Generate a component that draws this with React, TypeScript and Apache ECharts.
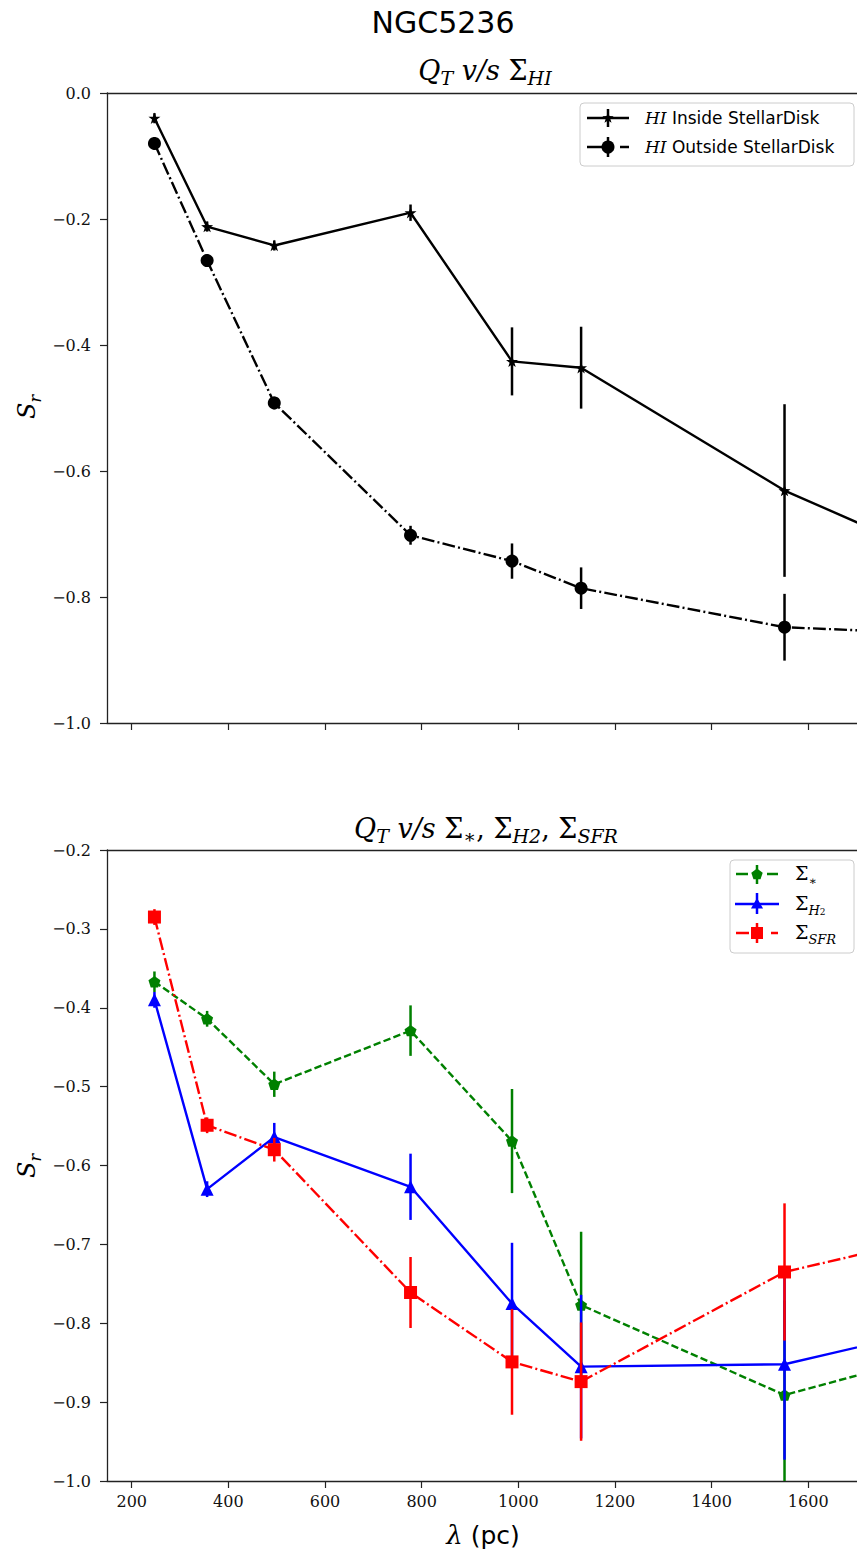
import React, { useEffect, useRef } from "react";
import * as echarts from "echarts";

// Spatial scale λ (pc) of each measurement; the last one lies past the visible axis range
const lambdaPc = [247, 356, 495, 777, 987, 1130, 1551, 2210];

// Upper panel: S_r of Q_T against Σ_HI
const hiInside = [-0.04, -0.212, -0.242, -0.19, -0.426, -0.436, -0.631, -0.853];
const hiInsideErr = [0.008, 0.008, 0.008, 0.013, 0.054, 0.065, 0.137, 0.15];
const hiOutside = [-0.08, -0.266, -0.492, -0.702, -0.743, -0.786, -0.848, -0.869];
const hiOutsideErr = [0.01, 0.01, 0.01, 0.015, 0.028, 0.033, 0.053, 0.06];

// Lower panel: S_r of Q_T against Σ_*, Σ_H2, Σ_SFR
const sigmaStar = [-0.367, -0.414, -0.497, -0.429, -0.569, -0.777, -0.891, -0.782];
const sigmaStarErr = [0.013, 0.01, 0.016, 0.032, 0.066, 0.093, 0.12, 0.12];
const sigmaH2 = [-0.39, -0.63, -0.564, -0.627, -0.775, -0.855, -0.852, -0.758];
const sigmaH2Err = [0.01, 0.01, 0.018, 0.042, 0.077, 0.091, 0.121, 0.12];
const sigmaSFR = [-0.285, -0.549, -0.58, -0.761, -0.849, -0.874, -0.735, -0.641];
const sigmaSFRErr = [0.01, 0.01, 0.015, 0.045, 0.067, 0.075, 0.087, 0.09];

const xTicks = [200, 400, 600, 800, 1000, 1200, 1400, 1600];
const X_MIN = 148.8;
const X_MAX = 1701;

const GREEN = "#008000";
const BLUE = "#0000ff";
const RED = "#ff0000";
const BLACK = "#000000";

const SERIF = "'DejaVu Serif', serif";
const SANS = "'DejaVu Sans', sans-serif";

const DASH = [7.4, 3.2];
const DASH_DOT = [12.8, 3.2, 2, 3.2];

const STAR_PATH =
  "path://M0,-10L2.35,-3.24L9.51,-3.09L3.8,1.24L5.88,8.09L0,4L-5.88,8.09L-3.8,1.24L-9.51,-3.09L-2.35,-3.24Z";
const PENTAGON_PATH = "path://M0,-10L9.51,-3.09L5.88,8.09L-5.88,8.09L-9.51,-3.09Z";

const fmtTick = (v: number) => {
  const a = Math.abs(v).toFixed(1);
  return v < -1e-9 ? "\u2212" + a : a;
};

function errorSeries(ys: number[], es: number[], color: string, axis: number, z: number, width = 2.5) {
  return {
    type: "custom",
    xAxisIndex: axis,
    yAxisIndex: axis === 0 ? 0 : 1,
    clip: true,
    silent: true,
    z,
    data: lambdaPc.map((x, i) => [x, ys[i], es[i]]),
    encode: { x: 0, y: 1 },
    renderItem: (_p: any, api: any) => {
      const x = api.value(0);
      const y = api.value(1);
      const e = api.value(2);
      const a = api.coord([x, y + e]);
      const b = api.coord([x, y - e]);
      return {
        type: "line",
        shape: { x1: a[0], y1: a[1], x2: b[0], y2: b[1] },
        style: { stroke: color, lineWidth: width },
      };
    },
  };
}

function lineSeries(
  name: string,
  ys: number[],
  color: string,
  axis: number,
  z: number,
  symbol: string,
  symbolSize: number,
  dash: any
) {
  return {
    type: "line",
    name,
    xAxisIndex: axis,
    yAxisIndex: axis === 0 ? 0 : 1,
    z,
    clip: true,
    silent: true,
    data: lambdaPc.map((x, i) => [x, ys[i]]),
    symbol,
    symbolSize,
    symbolKeepAspect: true,
    showSymbol: true,
    itemStyle: { color, borderWidth: 0 },
    lineStyle: { color, width: 2.4, type: dash },
  };
}

function starPoints(cx: number, cy: number, r: number) {
  const pts: number[][] = [];
  for (let k = 0; k < 10; k++) {
    const ang = -Math.PI / 2 + (k * Math.PI) / 5;
    const rr = k % 2 === 0 ? r : r * 0.4;
    pts.push([cx + rr * Math.cos(ang), cy + rr * Math.sin(ang)]);
  }
  return pts;
}

function polyPoints(cx: number, cy: number, r: number, n: number) {
  const pts: number[][] = [];
  for (let k = 0; k < n; k++) {
    const ang = -Math.PI / 2 + (k * 2 * Math.PI) / n;
    pts.push([cx + r * Math.cos(ang), cy + r * Math.sin(ang)]);
  }
  return pts;
}

const italic = (size: number) => ({ fontFamily: SERIF, fontStyle: "italic", fontSize: size, fill: BLACK, lineHeight: size + 8 });
const upright = (size: number) => ({ fontFamily: SERIF, fontSize: size, fill: BLACK, lineHeight: size + 8 });
const sub = (size: number) => ({ fontFamily: SERIF, fontStyle: "italic", fontSize: size, fill: BLACK, verticalAlign: "bottom", lineHeight: size });
const subUp = (size: number) => ({ fontFamily: SERIF, fontSize: size, fill: BLACK, verticalAlign: "bottom", lineHeight: size });

function textEl(x: number, y: number, text: string, rich: any, extra: any = {}) {
  return {
    type: "text",
    x,
    y,
    z: 110,
    silent: true,
    ...extra,
    style: {
      text,
      rich,
      align: extra.align || "center",
      textAlign: extra.align || "center",
      verticalAlign: "middle",
      textVerticalAlign: "middle",
      fill: BLACK,
    },
  };
}

function hLine(x1: number, x2: number, y: number, color: string, dash?: number[]) {
  return {
    type: "line",
    z: 105,
    shape: { x1, y1: y, x2, y2: y },
    style: { stroke: color, lineWidth: 2.5, lineDash: dash },
  };
}

function vLine(x: number, y1: number, y2: number, color: string) {
  return {
    type: "line",
    z: 106,
    shape: { x1: x, y1, x2: x, y2 },
    style: { stroke: color, lineWidth: 2.5 },
  };
}

export default function App() {
  const ref = useRef<HTMLDivElement>(null);

  useEffect(() => {
    if (!ref.current) return;
    const chart = echarts.init(ref.current, undefined, { renderer: "svg" });

    const axisLine = { show: true, onZero: false, lineStyle: { color: "#222", width: 1.3 } };
    const tickLabel = { fontFamily: SERIF, fontSize: 16, color: "#111" };

    const xBottom = (gridIndex: number, labels: boolean) => ({
      type: "value",
      gridIndex,
      position: "bottom",
      min: X_MIN,
      max: X_MAX,
      axisLine,
      splitLine: { show: false },
      axisTick: { show: true, length: 7, customValues: xTicks, lineStyle: { color: "#222", width: 1.2 } },
      axisLabel: { show: labels, customValues: xTicks, margin: 12, ...tickLabel, formatter: (v: number) => String(v) },
    });
    const xTop = (gridIndex: number) => ({
      type: "value",
      gridIndex,
      position: "top",
      min: X_MIN,
      max: X_MAX,
      axisLine,
      splitLine: { show: false },
      axisTick: { show: false },
      axisLabel: { show: false },
    });
    const yAxis = (gridIndex: number, min: number, max: number, interval: number) => ({
      type: "value",
      gridIndex,
      min,
      max,
      interval,
      axisLine,
      splitLine: { show: false },
      axisTick: { show: true, length: 7, lineStyle: { color: "#222", width: 1.2 } },
      axisLabel: { margin: 16, ...tickLabel, formatter: fmtTick },
    });

    const legendItalic = { fontFamily: SERIF, fontStyle: "italic", fontSize: 17, fill: BLACK };
    const legendSans = { fontFamily: SANS, fontSize: 17, fill: BLACK };

    const graphic: any[] = [
      {
        type: "text",
        x: 443,
        y: 22,
        silent: true,
        style: {
          text: "NGC5236",
          fontFamily: SANS,
          fontSize: 30,
          fill: BLACK,
          align: "center",
          textAlign: "center",
          verticalAlign: "middle",
          textVerticalAlign: "middle",
        },
      },
      textEl(485, 70, "{i|Q}{s|T}{i| v/s }{u|Σ}{s|HI}", { i: italic(27), u: upright(27), s: sub(19) }),
      textEl(486, 828, "{i|Q}{s|T}{i| v/s }{u|Σ}{s|∗}{u|, Σ}{s|H2}{u|, Σ}{s|SFR}", {
        i: italic(27),
        u: upright(27),
        s: sub(19),
      }),
      textEl(27, 407, "{i|S}{s|r}", { i: italic(24), s: sub(16) }, { rotation: Math.PI / 2 }),
      textEl(27, 1166, "{i|S}{s|r}", { i: italic(24), s: sub(16) }, { rotation: Math.PI / 2 }),
      textEl(483, 1535, "{i|λ}{t| (pc)}", {
        i: { fontFamily: SERIF, fontStyle: "italic", fontSize: 26, fill: BLACK },
        t: { fontFamily: SANS, fontSize: 25, fill: BLACK },
      }),

      // upper legend
      {
        type: "rect",
        z: 100,
        shape: { x: 580, y: 103, width: 274, height: 63, r: 4 },
        style: { fill: "rgba(255,255,255,0.85)", stroke: "#cccccc", lineWidth: 1 },
      },
      hLine(587, 629, 118, BLACK),
      vLine(608, 109, 127, BLACK),
      { type: "polygon", z: 107, shape: { points: starPoints(608, 118, 6) }, style: { fill: BLACK } },
      hLine(587, 603, 147, BLACK),
      hLine(620, 629, 147, BLACK),
      vLine(608, 137, 157, BLACK),
      { type: "circle", z: 107, shape: { cx: 608, cy: 147, r: 6.5 }, style: { fill: BLACK } },
      textEl(645, 118, "{i|HI}{t| Inside StellarDisk}", { i: legendItalic, t: legendSans }, { align: "left" }),
      textEl(645, 147, "{i|HI}{t| Outside StellarDisk}", { i: legendItalic, t: legendSans }, { align: "left" }),

      // lower legend
      {
        type: "rect",
        z: 100,
        shape: { x: 730, y: 860, width: 124, height: 93, r: 4 },
        style: { fill: "rgba(255,255,255,0.85)", stroke: "#cccccc", lineWidth: 1 },
      },
      hLine(736, 748, 874, GREEN),
      hLine(767, 778, 874, GREEN),
      vLine(757, 865, 884, GREEN),
      { type: "polygon", z: 107, shape: { points: polyPoints(757, 874.5, 6, 5) }, style: { fill: GREEN } },
      hLine(735, 779, 904, BLUE),
      vLine(757, 893, 914, BLUE),
      { type: "polygon", z: 107, shape: { points: polyPoints(757, 905, 7, 3) }, style: { fill: BLUE } },
      hLine(736, 749, 933, RED),
      hLine(771, 778, 933, RED),
      vLine(757, 923, 943, RED),
      { type: "rect", z: 107, shape: { x: 751, y: 927, width: 12, height: 12 }, style: { fill: RED } },
      textEl(795, 873, "{u|Σ}{s|∗}", { u: upright(19), s: subUp(12) }, { align: "left" }),
      textEl(795, 903, "{u|Σ}{s|H}{t|2}", { u: upright(19), s: sub(13), t: subUp(9) }, { align: "left" }),
      textEl(795, 932, "{u|Σ}{s|SFR}", { u: upright(19), s: sub(13) }, { align: "left" }),
    ];

    chart.setOption({
      animation: false,
      backgroundColor: "#ffffff",
      grid: [
        { left: 107, top: 93, width: 758, height: 630 },
        { left: 107, top: 850, width: 758, height: 631 },
      ],
      xAxis: [xBottom(0, false), xTop(0), xBottom(1, true), xTop(1)],
      yAxis: [yAxis(0, -1.0, 0.0, 0.2), yAxis(1, -1.0, -0.2, 0.1)],
      series: [
        errorSeries(hiInside, hiInsideErr, BLACK, 0, 2),
        lineSeries("HI Inside StellarDisk", hiInside, BLACK, 0, 3, STAR_PATH, 12, "solid"),
        errorSeries(hiOutside, hiOutsideErr, BLACK, 0, 4),
        lineSeries("HI Outside StellarDisk", hiOutside, BLACK, 0, 5, "circle", 13, DASH_DOT),

        errorSeries(sigmaStar, sigmaStarErr, GREEN, 2, 2),
        lineSeries("Σ*", sigmaStar, GREEN, 2, 3, PENTAGON_PATH, 12, DASH),
        errorSeries(sigmaH2, sigmaH2Err, BLUE, 2, 4),
        lineSeries("ΣH2", sigmaH2, BLUE, 2, 5, "triangle", 13, "solid"),
        errorSeries(sigmaSFR, sigmaSFRErr, RED, 2, 6),
        lineSeries("ΣSFR", sigmaSFR, RED, 2, 7, "rect", 13, DASH_DOT),
      ],
      graphic,
    });

    return () => chart.dispose();
  }, []);

  return (
    <div
      ref={ref}
      style={{ position: "absolute", left: 0, top: 0, width: 857, height: 1556, background: "#fff" }}
    />
  );
}
